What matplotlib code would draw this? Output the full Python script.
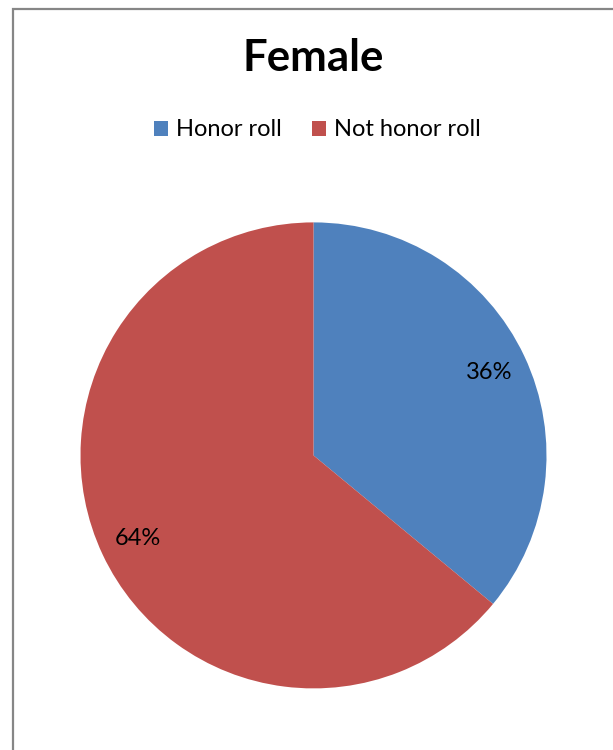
import matplotlib
matplotlib.use("Agg")
import matplotlib.pyplot as plt
from matplotlib.patches import Rectangle

# Data
title = "Female"
categories = ["Honor roll", "Not honor roll"]
values = [36, 64]
colors = ["#4F81BD", "#C0504D"]

W, H = 613, 750
DPI = 100
plt.rcParams['font.family'] = ['Lato', 'DejaVu Sans']

fig = plt.figure(figsize=(W / DPI, H / DPI), dpi=DPI)
fig.patch.set_facecolor("white")

# Chart border (gray frame extending beyond right/bottom)
fig.patches.append(Rectangle((12.5 / W, -0.01), (W + 10) / W, (H - 8.5) / H + 0.01,
                             transform=fig.transFigure, fill=False,
                             edgecolor="#868686", linewidth=1.6, zorder=0))

cx, cy, r = 313.5, 455.4, 233.0
ax = fig.add_axes([(cx - r) / W, (H - cy - r) / H, 2 * r / W, 2 * r / H])
wedges, _, autotexts = ax.pie(values, colors=colors, startangle=90, counterclock=False,
                              radius=1.0, autopct='%1.0f%%', pctdistance=0.835,
                              textprops=dict(fontsize=17, color="black"),
                              wedgeprops=dict(linewidth=0))
ax.set_xlim(-1, 1)
ax.set_ylim(-1, 1)
ax.set_aspect('auto')
ax.axis('off')

fig.text(313.5 / W, 1 - 58 / H, title, ha='center', va='center',
         fontsize=31.5, fontweight='bold', color='black')

fig.legend(wedges, categories, loc='center', bbox_to_anchor=(317.5 / W, 1 - 130 / H),
           ncol=2, frameon=False, fontsize=17, handlelength=0.6, handleheight=0.6,
           handletextpad=0.35, columnspacing=1.25, borderpad=0)

fig.savefig("out.png", dpi=DPI, facecolor="white")
